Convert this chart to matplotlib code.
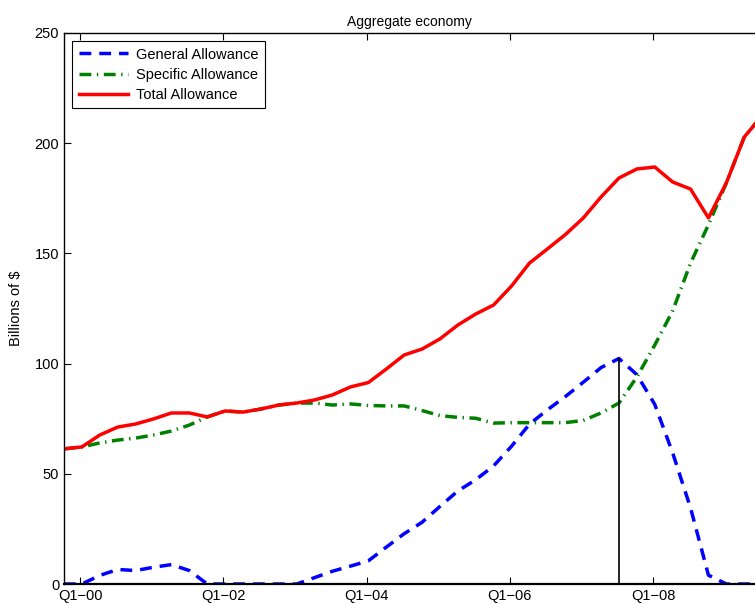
import numpy as np
import matplotlib
matplotlib.use("Agg")
import matplotlib.pyplot as plt

# quarterly allowances, billions of $, first point is Q4-99
general = [0, 0, 3.9, 6.6, 6.1, 7.6, 8.8, 6.1, 0, 0,
           0, 0, 0, 0, 2.9, 5.8, 8.1, 10.5, 16.7, 22.8,
           28.0, 35.2, 42.2, 47.3, 53.6, 62.5, 72.5, 79.0, 85.0, 91.5,
           98.2, 102.3, 95.0, 81.5, 59.5, 34.5, 4.0, 0, 0, 0]
specific = [61.3, 62.2, 64.0, 65.3, 66.2, 67.6, 69.4, 72.1, 75.8, 78.5,
            78.0, 79.4, 81.2, 82.1, 82.1, 81.2, 81.7, 81.0, 80.8, 80.8,
            78.7, 76.4, 75.6, 75.2, 73.0, 73.2, 73.2, 73.2, 73.2, 74.2,
            77.6, 82.1, 93.9, 108.4, 123.9, 145.6, 163.0, 182.0, 202.8, 212.5]
total = [61.3, 62.2, 67.6, 71.2, 72.6, 74.9, 77.6, 77.6, 75.8, 78.5,
         78.0, 79.4, 81.2, 82.1, 83.5, 85.8, 89.4, 91.4, 97.5, 103.9,
         106.6, 111.2, 117.5, 122.5, 126.6, 135.2, 145.6, 152.0, 158.5, 166.0,
         175.6, 184.2, 188.3, 189.2, 182.4, 179.2, 166.1, 182.0, 202.8, 212.5]
tick_labels = ["Q1\u221200", "Q1\u221202", "Q1\u221204", "Q1\u221206", "Q1\u221208"]
peak_idx = 31

plt.rcParams['font.family'] = ['Liberation Sans', 'DejaVu Sans']

x = np.arange(len(total))

fig = plt.figure(figsize=(7.55, 6.04), dpi=100)
ax = fig.add_axes([64 / 755, 20 / 604, 1 - 64 / 755, 551 / 604])

ax.plot(x, general, color=(0, 0, 1), lw=2.5, dashes=(3.4, 2.3),
        label="General Allowance")
ax.plot(x, specific, color=(0, 0.5, 0), lw=2.5, dashes=(3.4, 1.6, 0.4, 1.6),
        label="Specific Allowance")
ax.plot(x, total, color=(1, 0, 0), lw=2.5, label="Total Allowance")
ax.plot([x[peak_idx], x[peak_idx]], [0, general[peak_idx]], color="black", lw=1.2)

ax.set_xlim(0, 38.6)
ax.set_ylim(0, 250)
ax.set_yticks(np.arange(0, 251, 50))
ax.set_xticks(0.9 + 8 * np.arange(len(tick_labels)))
ax.set_xticklabels(tick_labels)
ax.tick_params(direction="in", length=5, labelsize=10.5, top=True, right=False, width=0.8)
ax.spines["right"].set_visible(False)
for s in ("left", "bottom", "top"):
    ax.spines[s].set_linewidth(1.0)
ax.spines["bottom"].set_linewidth(1.6)

ax.set_ylabel("Billions of $", fontsize=10.5, labelpad=8)
ax.set_title("Aggregate economy", fontsize=10, pad=5)

leg = ax.legend(loc="upper left", fontsize=10.5, handlelength=3.4, fancybox=False,
                framealpha=1, edgecolor="black", borderaxespad=0.55,
                labelspacing=0.42, borderpad=0.45, handletextpad=0.55)
leg.get_frame().set_linewidth(0.8)

fig.savefig("out.png", dpi=100)
